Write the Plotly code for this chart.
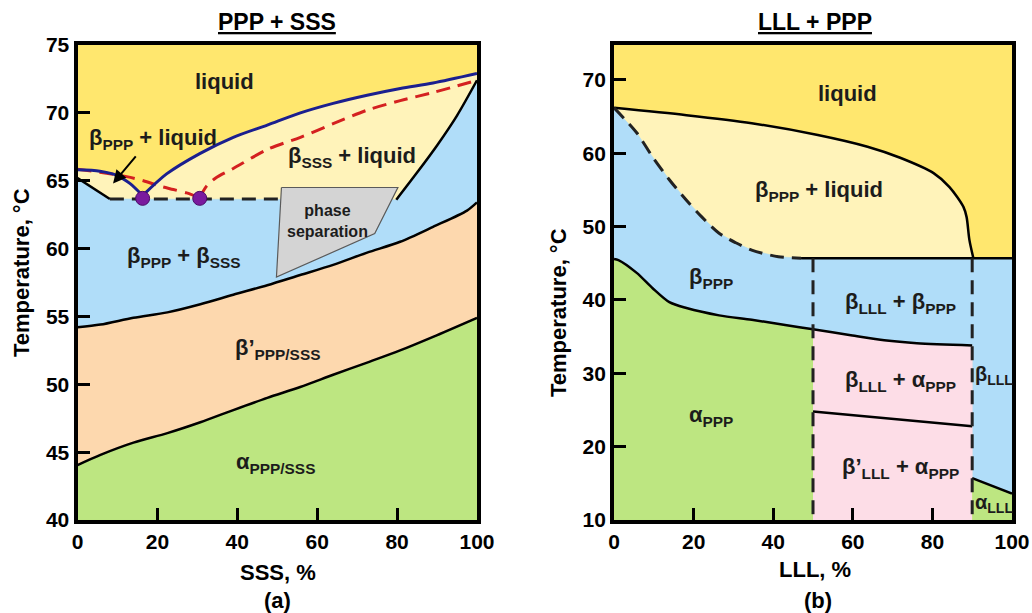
import plotly.graph_objects as go

# ---------------- (a) PPP + SSS ----------------
# liquidus (solid navy): falling branch, then rising branch
a_liq_x = [0, 5.6, 9.8, 13.1, 16.3, 22.3, 30.6, 39, 47.5, 55.8, 64, 72.5, 80.8, 89, 100]
a_liq_y = [65.8, 65.7, 65.4, 64.8, 63.9, 65.5, 67.0, 68.2, 69.1, 70.0, 70.7, 71.3, 71.8, 72.2, 72.9]
# solidus (red dashed)
a_sol_x = [0, 6, 12.3, 16.5, 20.6, 24, 27.3, 30.6, 32.3, 34.6, 39, 47.5, 55.8, 64, 72.5, 80.8, 89, 100]
a_sol_y = [65.85, 65.6, 65.3, 65.0, 64.6, 64.35, 64.1, 63.75, 64.6, 65.2, 65.9, 67.3, 68.2, 69.2, 70.2, 70.9, 71.5, 72.4]
# PPP-rich solid boundary (left) and SSS-rich solid boundary (right)
a_left_x = [0, 8.1]
a_left_y = [65.2, 63.65]
a_eut_x = [8.1, 51]
a_eut_y = [63.65, 63.65]
a_right_x = [79.8, 85, 90, 95, 100]
a_right_y = [63.6, 65.6, 67.6, 69.8, 72.4]
# beta / beta' transition
a_bb_x = [0, 5.75, 14, 22.5, 30.75, 39, 47.5, 55.75, 64, 72.5, 80.75, 89, 97.5, 100]
a_bb_y = [54.2, 54.4, 54.9, 55.3, 55.9, 56.6, 57.3, 58.05, 58.8, 59.7, 60.5, 61.6, 62.8, 63.4]
# beta' / alpha transition
a_ba_x = [0, 5.75, 14, 22.5, 30.75, 39, 47.5, 55.75, 64, 72.5, 80.75, 89, 100]
a_ba_y = [44.05, 44.8, 45.7, 46.4, 47.2, 48.1, 49.0, 49.8, 50.7, 51.6, 52.5, 53.5, 54.9]
# phase separation zone
a_sep_x = [51.05, 80.2, 74.4, 49.8]
a_sep_y = [64.5, 64.5, 61.1, 57.9]
# eutectic / peritectic points
a_pts_x = [16.3, 30.6]
a_pts_y = [63.7, 63.7]

# ---------------- (b) LLL + PPP ----------------
b_liq_x = [0, 18.2, 34.6, 51.2, 63.7, 71.9, 80.3, 84.3, 87.8, 88.6, 89.3, 90.3]
b_liq_y = [66.2, 65.2, 64.1, 62.5, 60.9, 59.4, 57.3, 55.4, 52.7, 51.3, 48.2, 45.7]
b_sol_x = [0, 5.7, 9.7, 13.9, 18.2, 22.1, 26.4, 30.6, 34.6, 41.3, 47]
b_sol_y = [66.2, 62.8, 59.5, 56.4, 53.6, 51.3, 49.1, 47.8, 46.8, 45.9, 45.7]
b_flat_x = [47, 100]
b_flat_y = [45.7, 45.7]
b_ba_x = [0, 1.1, 5.7, 9.7, 13.9, 18.2, 26.4, 34.6, 43.0, 50, 59.5, 67.9, 76.1, 90]
b_ba_y = [45.6, 45.45, 43.7, 41.6, 39.7, 38.9, 37.9, 37.3, 36.6, 36.0, 35.2, 34.5, 34.1, 33.8]
b_low_x = [50, 90]
b_low_y = [24.8, 22.8]
b_alll_x = [90, 100]
b_alll_y = [15.7, 13.6]
b_vert1_x = [50, 50]
b_vert2_x = [90, 90]
b_vert_y = [45.7, 10]

A_X = [0, 100]
A_Y = [40, 75]
B_X = [0, 100]
B_Y = [10, 74.77]

LIQ = "#FFE76E"
LIQ_SOL = "#FFF3BA"
BLUE = "#B0DDF9"
PEACH = "#FDD8AE"
GREEN = "#BDE681"
PINK = "#FDDDE7"
GRAY = "#D4D4D4"

FONT = "Arial, Liberation Sans, sans-serif"
TXT = "#1c1c1c"

fig = go.Figure()


def region(xs, ys, color, xa, ya):
    fig.add_trace(go.Scatter(x=xs, y=ys, mode="lines", fill="toself", fillcolor=color,
                             line=dict(width=0.6, color=color), hoverinfo="skip",
                             showlegend=False, xaxis=xa, yaxis=ya))


def curve(xs, ys, color, width, xa, ya, dash="solid", smooth=True):
    line = dict(color=color, width=width, dash=dash)
    if smooth:
        line.update(shape="spline", smoothing=0.8)
    fig.add_trace(go.Scatter(x=xs, y=ys, mode="lines", line=line,
                             hoverinfo="skip", showlegend=False, xaxis=xa, yaxis=ya))


# ---- panel (a) regions ----
region([A_X[0], A_X[1], A_X[1], A_X[0]], [A_Y[0], A_Y[0], A_Y[1], A_Y[1]], LIQ, "x", "y")
region(a_liq_x + a_right_x[::-1] + [a_eut_x[0]] + [a_left_x[0]],
       a_liq_y + a_right_y[::-1] + [a_eut_y[0]] + [a_left_y[0]], LIQ_SOL, "x", "y")
region(a_left_x + a_right_x + a_bb_x[::-1],
       a_left_y + a_right_y + a_bb_y[::-1], BLUE, "x", "y")
region(a_bb_x + a_ba_x[::-1], a_bb_y + a_ba_y[::-1], PEACH, "x", "y")
region(a_ba_x + [A_X[1], A_X[0]], a_ba_y + [A_Y[0], A_Y[0]], GREEN, "x", "y")

curve(a_left_x, a_left_y, "black", 2.5, "x", "y", smooth=False)
curve(a_eut_x, a_eut_y, "#222222", 3, "x", "y", dash="14px,8px", smooth=False)
curve(a_right_x, a_right_y, "black", 2.5, "x", "y")
curve(a_bb_x, a_bb_y, "black", 2.5, "x", "y")
curve(a_ba_x, a_ba_y, "black", 2.5, "x", "y")
fig.add_trace(go.Scatter(x=a_sep_x + [a_sep_x[0]], y=a_sep_y + [a_sep_y[0]], mode="lines",
                         fill="toself", fillcolor=GRAY, line=dict(color="#5a5a5a", width=1.2),
                         hoverinfo="skip", showlegend=False, xaxis="x", yaxis="y"))
k_sol = a_sol_x.index(a_pts_x[1])
curve(a_sol_x[:k_sol + 1], a_sol_y[:k_sol + 1], "#D42020", 3, "x", "y", dash="14px,8px")
curve(a_sol_x[k_sol:], a_sol_y[k_sol:], "#D42020", 3, "x", "y", dash="14px,8px")
k_liq = a_liq_x.index(a_pts_x[0])
curve(a_liq_x[:k_liq + 1], a_liq_y[:k_liq + 1], "#1B1F8F", 3, "x", "y")
curve(a_liq_x[k_liq:], a_liq_y[k_liq:], "#1B1F8F", 3, "x", "y")
fig.add_trace(go.Scatter(x=a_pts_x, y=a_pts_y, mode="markers",
                         marker=dict(size=14, color="#7A1A9E", line=dict(color="#4a0a66", width=1)),
                         hoverinfo="skip", showlegend=False, xaxis="x", yaxis="y"))

# ---- panel (b) regions ----
region([B_X[0], B_X[1], B_X[1], B_X[0]], [B_Y[0], B_Y[0], B_Y[1], B_Y[1]], LIQ, "x2", "y2")
region(b_liq_x + b_sol_x[::-1], b_liq_y + b_sol_y[::-1], LIQ_SOL, "x2", "y2")
region(b_sol_x + [B_X[1], B_X[1]] + b_alll_x[::-1] + b_ba_x[::-1],
       b_sol_y + [b_flat_y[1], b_alll_y[1]] + b_alll_y[::-1] + b_ba_y[::-1], BLUE, "x2", "y2")
nb = b_ba_x.index(50)
region(b_ba_x[:nb + 1] + [50, 0], b_ba_y[:nb + 1] + [B_Y[0], B_Y[0]], GREEN, "x2", "y2")
region(b_ba_x[nb:] + [90, 50], b_ba_y[nb:] + [B_Y[0], B_Y[0]], PINK, "x2", "y2")
region(b_alll_x + [B_X[1], 90], b_alll_y + [B_Y[0], B_Y[0]], GREEN, "x2", "y2")

curve(b_liq_x, b_liq_y, "black", 2.5, "x2", "y2")
curve(b_sol_x, b_sol_y, "#222222", 3, "x2", "y2", dash="14px,8px")
curve(b_flat_x, b_flat_y, "black", 2.5, "x2", "y2", smooth=False)
curve(b_ba_x, b_ba_y, "black", 2.5, "x2", "y2")
curve(b_low_x, b_low_y, "black", 2.5, "x2", "y2", smooth=False)
curve(b_alll_x, b_alll_y, "black", 2.5, "x2", "y2", smooth=False)
curve(b_vert1_x, b_vert_y, "#222222", 3, "x2", "y2", dash="14px,8px", smooth=False)
curve(b_vert2_x, b_vert_y, "#222222", 3, "x2", "y2", dash="14px,8px", smooth=False)

# ---- axes ----
axis_common = dict(showgrid=False, zeroline=False, showline=True, linecolor="black", linewidth=4,
                   mirror=True, ticks="inside", ticklen=12, tickwidth=3, tickcolor="black",
                   automargin=False, ticklabeloverflow="allow",
                   tickfont=dict(family=FONT, size=21, color="black", weight="bold"))

fig.update_layout(
    width=1032, height=613,
    margin=dict(l=0, r=0, t=0, b=0, autoexpand=False),
    paper_bgcolor="white", plot_bgcolor="white",
    xaxis=dict(domain=[0.0751, 0.4622], range=A_X, tickvals=[0, 20, 40, 60, 80, 100], anchor="y", **axis_common),
    yaxis=dict(domain=[0.1517, 0.9266], range=A_Y, tickvals=[40, 45, 50, 55, 60, 65, 70, 75], anchor="x", **axis_common),
    xaxis2=dict(domain=[0.595, 0.9806], range=B_X, tickvals=[0, 20, 40, 60, 80, 100], anchor="y2", **axis_common),
    yaxis2=dict(domain=[0.1517, 0.9266], range=B_Y, tickvals=[10, 20, 30, 40, 50, 60, 70], anchor="x2", **axis_common),
)

ann = []


def label(text, x, y, xa, ya, size=22, xanchor="center"):
    ann.append(dict(text="<b>" + text + "</b>", x=x, y=y, xref=xa, yref=ya, showarrow=False,
                    xanchor=xanchor, font=dict(family=FONT, size=size, color=TXT)))


# panel (a) labels
label("liquid", 36.9, 72.3, "x", "y")
label("β<sub>PPP</sub> + liquid", 19.0, 68.1, "x", "y")
label("β<sub>SSS</sub> + liquid", 68.75, 66.75, "x", "y")
label("phase<br>separation", 62.6, 62.0, "x", "y", size=16)
label("β<sub>PPP</sub> + β<sub>SSS</sub>", 26.6, 59.4, "x", "y")
label("β’<sub>PPP/SSS</sub>", 50.1, 52.6, "x", "y")
label("α<sub>PPP/SSS</sub>", 49.6, 44.2, "x", "y")
ann.append(dict(x=8.9, y=64.8, ax=14.9, ay=66.9, xref="x", yref="y", axref="x", ayref="y",
                text="", showarrow=True, arrowhead=2, arrowsize=1.3, arrowwidth=2, arrowcolor="black"))

# panel (b) labels
label("liquid", 58.7, 68.2, "x2", "y2")
label("β<sub>PPP</sub> + liquid", 51.5, 54.9, "x2", "y2")
label("β<sub>PPP</sub>", 24.4, 43.0, "x2", "y2")
label("β<sub>LLL</sub> + β<sub>PPP</sub>", 71.9, 39.6, "x2", "y2")
label("β<sub>LLL</sub> + α<sub>PPP</sub>", 71.9, 29.0, "x2", "y2")
label("β<sub>LLL</sub>", 90.3, 29.7, "x2", "y2", size=20, xanchor="left")
label("α<sub>PPP</sub>", 24.4, 24.2, "x2", "y2")
label("β’<sub>LLL</sub> + α<sub>PPP</sub>", 71.9, 17.1, "x2", "y2")
label("α<sub>LLL</sub>", 90.3, 12.2, "x2", "y2", size=20, xanchor="left")


def paper_text(text, px, py, size, angle=0):
    ann.append(dict(text="<b>" + text + "</b>", x=px / 1032, y=1 - py / 613, xref="paper", yref="paper",
                    showarrow=False, textangle=angle, xanchor="center", yanchor="middle",
                    font=dict(family=FONT, size=size, color="black")))


paper_text("<u>PPP + SSS</u>", 277, 22, 23)
paper_text("<u>LLL + PPP</u>", 815, 22, 23)
paper_text("Temperature, °C", 22, 273, 22, angle=-90)
paper_text("Temperature, °C", 559, 313, 22, angle=-90)
paper_text("SSS, %", 278, 572, 22)
paper_text("LLL, %", 815, 569, 22)
paper_text("(a)", 277, 600, 22)
paper_text("(b)", 818, 600, 22)

fig.update_layout(annotations=ann)
fig.write_html("out.html")
